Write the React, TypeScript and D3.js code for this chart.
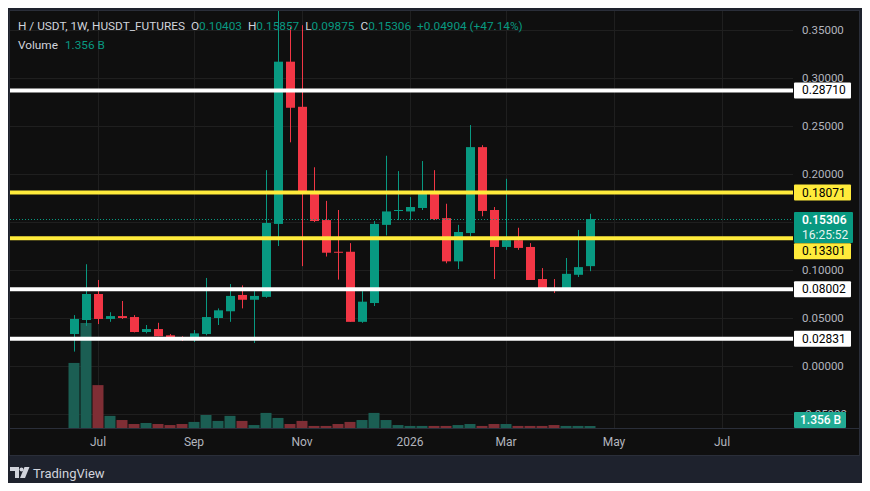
import * as d3 from 'd3'

const W = 870
const H = 491

// weekly bars, first one is the week of 23 Jun 2025
const firstWeek = new Date(Date.UTC(2025, 5, 23))
const lastWeek = new Date(Date.UTC(2026, 3, 20))
const weeks = d3.utcMonday.range(firstWeek, d3.utcDay.offset(lastWeek, 1))

const opens = [
  0.0333, 0.0479, 0.075, 0.049, 0.052, 0.051, 0.0354, 0.0385, 0.032, 0.029, 0.027,
  0.0333, 0.05, 0.057, 0.074, 0.069, 0.072, 0.148, 0.317, 0.27, 0.181, 0.152,
  0.119, 0.119, 0.046, 0.0656, 0.147, 0.162, 0.161, 0.1646, 0.181, 0.154, 0.109,
  0.1385, 0.228, 0.1625, 0.124, 0.131, 0.124, 0.0906, 0.081, 0.079, 0.095, 0.10403,
]
const highs = [
  0.053, 0.106, 0.0896, 0.056, 0.0677, 0.053, 0.0427, 0.045, 0.0333, 0.031, 0.0375,
  0.0917, 0.06, 0.0854, 0.084, 0.078, 0.204, 0.372, 0.353, 0.355, 0.207, 0.172,
  0.1625, 0.128, 0.078, 0.151, 0.219, 0.203, 0.176, 0.2135, 0.204, 0.169, 0.147,
  0.251, 0.23, 0.1656, 0.195, 0.144, 0.128, 0.102, 0.0906, 0.1125, 0.1417, 0.15857,
]
const lows = [
  0.015, 0.0417, 0.0437, 0.046, 0.049, 0.035, 0.034, 0.031, 0.028, 0.026, 0.025,
  0.032, 0.0427, 0.046, 0.06, 0.024, 0.071, 0.125, 0.233, 0.104, 0.15, 0.114,
  0.09, 0.046, 0.045, 0.0625, 0.136, 0.152, 0.152, 0.1625, 0.152, 0.107, 0.101,
  0.135, 0.156, 0.0906, 0.121, 0.121, 0.0896, 0.079, 0.076, 0.079, 0.0927, 0.09875,
]
const closes = [
  0.049, 0.075, 0.049, 0.052, 0.05, 0.0354, 0.0385, 0.031, 0.028, 0.028, 0.034,
  0.051, 0.058, 0.073, 0.069, 0.073, 0.149, 0.317, 0.269, 0.18, 0.151, 0.118,
  0.118, 0.046, 0.067, 0.148, 0.161, 0.1625, 0.1656, 0.181, 0.153, 0.109, 0.1396,
  0.228, 0.1615, 0.124, 0.131, 0.123, 0.0896, 0.08, 0.079, 0.096, 0.103, 0.15306,
]
// volume in billions
const volumes = [
  44, 71, 29, 8.2, 5.4, 2.7, 3.4, 2.7, 2.0, 2.7, 4.1,
  8.8, 4.8, 8.2, 4.8, 2.0, 10.2, 6.8, 2.7, 4.8, 1.4, 1.4,
  2.7, 4.1, 5.4, 10.2, 5.4, 2.0, 1.4, 1.4, 1.4, 1.4, 2.0,
  2.7, 1.4, 2.7, 2.7, 1.4, 1.4, 1.4, 2.0, 1.4, 1.4, 1.356,
]

const priceTicks = [0.35, 0.3, 0.25, 0.2, 0.15, 0.1, 0.05, 0, -0.05]
// 0.15 sits under the last-price tag, so its label is not drawn
const priceTickLabels = [0.35, 0.3, 0.25, 0.2, 0.1, 0.05, 0, -0.05]
const monthTicks = [
  new Date(Date.UTC(2025, 6, 7)),
  new Date(Date.UTC(2025, 8, 1)),
  new Date(Date.UTC(2025, 10, 3)),
  new Date(Date.UTC(2026, 0, 5)),
  new Date(Date.UTC(2026, 2, 2)),
  new Date(Date.UTC(2026, 4, 4)),
  new Date(Date.UTC(2026, 6, 6)),
]
const monthLabels = ['Jul', 'Sep', 'Nov', '2026', 'Mar', 'May', 'Jul']

const levelValues = [0.2871, 0.18071, 0.13301, 0.08002, 0.02831]
const levelColors = ['#ffffff', '#ffeb3b', '#ffeb3b', '#ffffff', '#ffffff']
// label offset where the box is pushed away from the last-price tag
const levelLabelShift = [0, 0, 13, 0, 0]

const GREEN = '#089981'
const RED = '#f23645'
const FONT = 'Roboto, "DejaVu Sans", sans-serif'

export default function App() {
  const panel = { left: 10, top: 11, right: 859, bottom: 455 }
  const plotRight = 793
  const axisTop = 428

  const x = d3
    .scaleUtc()
    .domain([firstWeek, new Date(Date.UTC(2026, 6, 6))])
    .range([74, 722])
  const y = d3.scaleLinear().domain([-0.05, 0.35]).range([414, 30])
  const yVol = d3.scaleLinear().domain([0, 71]).range([axisTop, 323])

  const last = closes[closes.length - 1]
  const lastY = y(last)

  return (
    <svg width={W} height={H} style={{ display: 'block', margin: -8 }} fontFamily={FONT}>
      <rect width={W} height={H} fill="#1e222d" />
      <rect
        x={panel.left - 0.5}
        y={panel.top - 0.5}
        width={panel.right - panel.left + 1}
        height={panel.bottom - panel.top + 1}
        fill="#0f0f0f"
        stroke="#2a2e39"
      />
      <defs>
        <clipPath id="plot">
          <rect x={panel.left} y={panel.top} width={plotRight - panel.left} height={axisTop - panel.top} />
        </clipPath>
        <clipPath id="negtick">
          <rect x={795} y={400} width={64} height={12} />
        </clipPath>
      </defs>

      {/* grid */}
      <g stroke="#1f1f1f" strokeWidth={1}>
        {priceTicks.map((t) => (
          <line key={t} x1={panel.left} x2={plotRight} y1={Math.round(y(t)) + 0.5} y2={Math.round(y(t)) + 0.5} />
        ))}
        {monthTicks.map((d, i) => (
          <line key={i} x1={Math.round(x(d)) + 0.5} x2={Math.round(x(d)) + 0.5} y1={panel.top} y2={axisTop} />
        ))}
      </g>

      <g clipPath="url(#plot)">
        {/* volume */}
        {weeks.map((d, i) => {
          const up = closes[i] >= opens[i]
          const top = yVol(volumes[i])
          return (
            <rect
              key={'v' + i}
              x={x(d) - 5.5}
              y={top}
              width={11}
              height={Math.max(1, axisTop - top)}
              fill={up ? '#1b5e53' : '#7f2e35'}
            />
          )
        })}

        {/* candles */}
        {weeks.map((d, i) => {
          const up = closes[i] >= opens[i]
          const c = up ? GREEN : RED
          const cx = Math.round(x(d))
          const top = y(Math.max(opens[i], closes[i]))
          const bot = y(Math.min(opens[i], closes[i]))
          return (
            <g key={'c' + i}>
              <line x1={cx + 0.5} x2={cx + 0.5} y1={y(highs[i])} y2={y(lows[i])} stroke={c} strokeWidth={1} />
              <rect x={cx - 4} y={top} width={9} height={Math.max(1, bot - top)} fill={c} />
            </g>
          )
        })}

        {/* horizontal levels */}
        {levelValues.map((v, i) => (
          <line
            key={'l' + i}
            x1={panel.left}
            x2={plotRight + 2}
            y1={y(v)}
            y2={y(v)}
            stroke={levelColors[i]}
            strokeWidth={4}
          />
        ))}

        {/* last price dotted line */}
        <line
          x1={panel.left}
          x2={plotRight}
          y1={Math.round(lastY) + 0.5}
          y2={Math.round(lastY) + 0.5}
          stroke={GREEN}
          strokeWidth={1}
          strokeDasharray="1 2"
        />
      </g>

      {/* time axis */}
      <line x1={panel.left} x2={panel.right} y1={axisTop + 0.5} y2={axisTop + 0.5} stroke="#2a2e39" />
      <g fill="#b2b5be" fontSize={12} textAnchor="middle">
        {monthTicks.map((d, i) => (
          <text key={i} x={x(d)} y={446}>
            {monthLabels[i]}
          </text>
        ))}
      </g>

      {/* price axis */}
      <g fill="#b2b5be" fontSize={11.5}>
        {priceTickLabels.map((t) => (
          <text key={t} x={802} y={y(t) + 4} clipPath={t < 0 ? 'url(#negtick)' : undefined}>
            {t.toFixed(5)}
          </text>
        ))}
      </g>

      {/* level labels */}
      {levelValues.map((v, i) => {
        const cy = y(v) + levelLabelShift[i]
        return (
          <g key={'lb' + i}>
            <rect x={794} y={cy - 8} width={57} height={16} rx={1} fill={levelColors[i]} />
            <text x={802} y={cy + 4} fontSize={12} fill="#000000">
              {v.toFixed(5)}
            </text>
          </g>
        )
      })}

      {/* last price tag */}
      <rect x={794} y={212} width={59} height={31} rx={1} fill={GREEN} />
      <text x={802} y={224} fontSize={12} fill="#ffffff" fontWeight={600}>
        {last.toFixed(5)}
      </text>
      <text x={802} y={239} fontSize={12} fill="#e6f4f1">
        16:25:52
      </text>

      {/* volume tag */}
      <rect x={794} y={412} width={52} height={16} rx={1} fill="#22ab94" />
      <text x={800} y={424} fontSize={12} fill="#ffffff" fontWeight={500}>
        1.356 B
      </text>

      {/* legend */}
      <text x={18} y={30} fontSize={11.8} fill="#d1d4dc">
        <tspan>H / USDT, 1W, HUSDT_FUTURES</tspan>
        <tspan dx={6}>O</tspan>
        <tspan fill={GREEN}>{opens[43].toFixed(5)}</tspan>
        <tspan dx={6}>H</tspan>
        <tspan fill={GREEN}>{highs[43].toFixed(5)}</tspan>
        <tspan dx={6}>L</tspan>
        <tspan fill={GREEN}>{lows[43].toFixed(5)}</tspan>
        <tspan dx={6}>C</tspan>
        <tspan fill={GREEN}>{closes[43].toFixed(5)}</tspan>
        <tspan dx={6} fill={GREEN}>
          +0.04904 (+47.14%)
        </tspan>
      </text>
      <text x={18} y={49} fontSize={11.8} fill="#d1d4dc">
        <tspan>Volume</tspan>
        <tspan dx={7} fill={GREEN}>
          1.356 B
        </tspan>
      </text>

      {/* TradingView mark */}
      <g fill="#d1d4dc">
        <path d="M10 467 h9 v11 h-4 v-7 h-5 z" />
        <circle cx={21.5} cy={469.5} r={2} />
        <path d="M24.5 467 h5 l-4.5 11 h-5 z" />
        <text x={33} y={478} fontSize={13}>
          TradingView
        </text>
      </g>
    </svg>
  )
}
